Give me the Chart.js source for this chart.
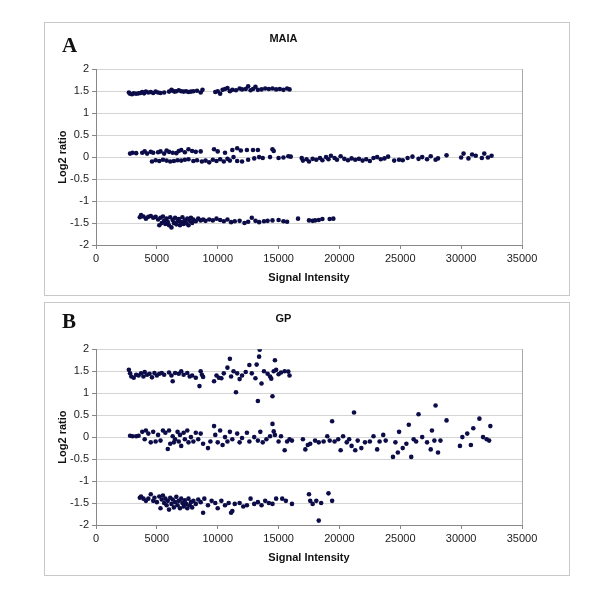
<!DOCTYPE html>
<html>
<head>
<meta charset="utf-8">
<script src="https://cdn.jsdelivr.net/npm/chart.js@4"></script>
<style>
body{margin:0;background:#fff;font-family:"Liberation Sans",Arial,sans-serif;}
.panel{position:absolute;left:44px;width:526px;height:274px;border:1px solid #c8c8c8;box-sizing:border-box;}
.panel canvas{position:absolute;left:0;top:0;}
.tag{position:absolute;left:17px;font:bold 21px "Liberation Serif","DejaVu Serif",serif;color:#111;}
</style>
</head>
<body>
<div class="panel" style="top:22px"><canvas id="maia" width="526" height="274"></canvas><div class="tag" style="top:10px">A</div></div>
<div class="panel" style="top:302px"><canvas id="gp" width="526" height="274"></canvas><div class="tag" style="top:6px">B</div></div>
<script>
// MAIA (panel A)
const maiaX=[2700,2800,2950,3100,3300,3500,3650,3800,3950,4100,4300,4500,4700,4900,5100,5300,5600,6000,6200,6300,6450,6600,6800,7000,7200,7400,7600,7800,8000,8300,8600,8750,
9800,10000,10200,10400,10600,10800,11000,11200,11500,11800,12000,12300,12500,12700,12900,13100,13300,13600,13900,14200,14500,14800,15100,15400,15700,15900,
2800,3000,3300,3800,4000,4200,4500,4700,5100,5300,5600,5800,6000,6300,6600,6800,7000,7300,7600,7900,8200,8600,9700,10000,10600,11200,11600,11900,12400,12900,13300,14500,14600,
4600,4900,5200,5500,5800,6100,6400,6700,7000,7300,7600,8000,8300,8700,9000,9300,9600,9900,10200,10500,10800,11000,11300,11600,12000,12500,13000,13400,13700,14300,15000,15400,15800,16000,
16900,17000,17300,17500,17800,18100,18400,18600,18900,19100,19300,19600,19800,20100,20400,20700,21000,21300,21600,21900,22200,22500,22800,23100,23400,23700,24000,24500,24900,25200,25600,26000,26500,26800,27200,27500,27900,28100,28800,30000,30200,30600,30900,31200,31700,31900,32200,32500,
3600,3700,3900,4100,4300,4500,4700,4900,5100,5200,5300,5400,5500,5600,5700,5800,5900,6000,6100,6200,6300,6400,6500,6600,6700,6800,6900,7000,7100,7200,7300,7400,7500,7600,7700,7800,7900,8000,8200,8400,8600,8800,9000,9300,9600,9900,10200,10500,10800,11100,11400,11800,12200,12500,12800,13100,13400,13800,14100,14500,15000,15400,15700,16600,17500,17800,18000,18300,18600,19200,19500];
const maiaY=[1.47,1.44,1.43,1.45,1.44,1.45,1.46,1.48,1.45,1.49,1.47,1.48,1.46,1.49,1.47,1.46,1.47,1.49,1.53,1.51,1.49,1.50,1.52,1.50,1.49,1.50,1.48,1.49,1.50,1.51,1.47,1.53,
1.48,1.50,1.44,1.53,1.55,1.57,1.50,1.53,1.52,1.56,1.54,1.55,1.61,1.52,1.55,1.60,1.53,1.54,1.56,1.55,1.56,1.54,1.55,1.53,1.56,1.54,
0.08,0.10,0.09,0.10,0.13,0.08,0.12,0.10,0.11,0.13,0.08,0.15,0.12,0.10,0.09,0.14,0.16,0.11,0.18,0.14,0.12,0.13,0.18,0.13,0.10,0.16,0.20,0.15,0.16,0.16,0.16,0.18,0.14,
-0.10,-0.07,-0.09,-0.06,-0.08,-0.10,-0.09,-0.07,-0.08,-0.06,-0.05,-0.09,-0.07,-0.10,-0.08,-0.12,-0.06,-0.09,-0.05,-0.10,-0.04,-0.08,0.00,-0.09,-0.10,-0.06,-0.03,0.00,-0.02,0.00,-0.02,-0.01,0.02,0.01,
-0.02,-0.08,-0.05,-0.10,-0.04,-0.06,-0.02,-0.07,0.00,-0.05,0.03,-0.02,-0.06,0.02,-0.04,-0.07,-0.03,-0.06,-0.04,-0.08,-0.05,-0.09,-0.02,0.00,-0.05,-0.03,0.01,-0.08,-0.06,-0.07,-0.02,0.01,-0.04,0.00,-0.05,0.02,-0.06,-0.03,0.04,-0.01,0.08,-0.03,0.06,0.03,-0.02,0.08,-0.01,0.03,
-1.37,-1.32,-1.35,-1.40,-1.36,-1.34,-1.38,-1.36,-1.42,-1.55,-1.38,-1.50,-1.35,-1.45,-1.52,-1.40,-1.48,-1.55,-1.37,-1.60,-1.43,-1.50,-1.38,-1.53,-1.46,-1.41,-1.55,-1.48,-1.37,-1.52,-1.44,-1.50,-1.40,-1.55,-1.45,-1.38,-1.50,-1.42,-1.46,-1.40,-1.44,-1.42,-1.45,-1.42,-1.44,-1.40,-1.43,-1.46,-1.42,-1.48,-1.46,-1.45,-1.50,-1.47,-1.38,-1.45,-1.48,-1.46,-1.45,-1.44,-1.43,-1.46,-1.47,-1.40,-1.44,-1.45,-1.44,-1.43,-1.41,-1.41,-1.40];

// GP (panel B)
const gpX=[2700,2800,2900,3100,3300,3500,3700,3900,4000,4200,4400,4600,4800,5000,5200,5400,5600,6000,6200,6300,6500,6800,7000,7200,7500,7700,7900,8200,8500,8600,8700,8800,9700,9900,10100,10300,10500,10800,11000,11100,11300,11500,11600,11800,12000,12300,12600,12800,13100,13200,13300,13400,13450,13600,13800,14100,14300,14400,14500,14600,14700,14800,15000,15200,15500,15800,15900,
2800,3000,3300,3500,3800,4000,4100,4300,4500,4700,4900,5100,5300,5500,5700,5900,6000,6100,6300,6400,6500,6700,6800,6900,7000,7200,7300,7500,7600,7800,8000,8200,8400,8600,8800,9200,9400,9700,9800,10000,10200,10400,10600,10800,11000,11200,11600,11800,12000,12400,12600,13000,13300,13500,13700,14000,14300,14500,14600,14700,15000,15200,15500,15700,15900,16100,
17000,17200,17400,17600,18000,18300,18700,19000,19200,19400,19600,19900,20100,20300,20600,20800,21000,21200,21300,21500,21800,22100,22500,22800,23100,23300,23600,23800,24400,24600,24800,24900,25200,25500,25700,25900,26100,26300,26500,26800,27200,27500,27600,27800,27900,28100,28300,28800,29900,30100,30500,30800,31000,31500,31800,32100,32400,32300,
3600,3700,3900,4100,4300,4500,4700,4800,5000,5200,5300,5400,5500,5600,5700,5800,5900,6000,6100,6200,6300,6400,6500,6600,6700,6800,6900,7000,7100,7200,7300,7400,7500,7600,7700,7800,7900,8000,8200,8400,8600,8800,8900,9200,9500,9800,10000,10300,10600,10900,11100,11200,11400,11800,12100,12400,12700,13000,13300,13600,13900,14200,14500,14800,15300,15600,16100,17500,17600,17800,18100,18300,18500,19100,19400];
const gpY=[1.53,1.45,1.38,1.35,1.42,1.40,1.45,1.38,1.48,1.42,1.44,1.36,1.46,1.40,1.44,1.46,1.42,1.47,1.40,1.27,1.46,1.44,1.50,1.42,1.46,1.38,1.40,1.35,1.16,1.50,1.42,1.37,1.27,1.40,1.35,1.34,1.45,1.58,1.78,1.38,1.50,1.02,1.45,1.32,1.40,1.48,1.64,1.45,1.34,1.65,0.82,1.83,1.99,1.22,1.50,1.44,1.38,1.33,0.93,1.50,1.75,1.53,1.43,1.47,1.50,1.49,1.40,
0.03,0.02,0.02,0.03,0.12,-0.05,0.15,0.08,-0.12,0.12,-0.10,0.05,-0.08,0.15,0.10,-0.27,0.15,-0.15,0.02,-0.12,-0.05,0.12,-0.10,0.05,-0.20,0.10,-0.05,0.15,-0.12,0.00,-0.10,0.10,-0.05,0.08,-0.15,-0.25,-0.10,0.25,0.05,-0.12,0.15,-0.18,0.00,-0.10,0.12,-0.05,0.08,-0.12,-0.02,0.10,-0.10,0.00,-0.08,0.12,-0.12,-0.05,0.02,0.30,0.13,0.05,-0.10,0.02,-0.30,-0.10,-0.05,-0.08,
-0.05,-0.28,-0.18,-0.15,-0.08,-0.12,-0.10,0.02,-0.08,0.36,-0.10,-0.05,-0.30,0.02,-0.12,-0.05,-0.20,0.56,-0.30,-0.08,-0.25,-0.12,-0.10,0.02,-0.28,-0.10,0.05,-0.08,-0.45,-0.12,-0.35,0.12,-0.25,-0.15,0.28,-0.45,-0.05,-0.10,0.52,0.00,-0.12,-0.28,0.15,-0.08,0.72,-0.35,-0.08,0.38,-0.20,0.00,0.08,-0.18,0.20,0.42,0.00,-0.05,0.25,-0.08,
-1.38,-1.35,-1.40,-1.45,-1.40,-1.30,-1.45,-1.38,-1.48,-1.35,-1.62,-1.42,-1.33,-1.50,-1.40,-1.55,-1.45,-1.65,-1.38,-1.52,-1.42,-1.60,-1.48,-1.36,-1.55,-1.45,-1.62,-1.40,-1.50,-1.58,-1.44,-1.52,-1.62,-1.40,-1.55,-1.48,-1.60,-1.45,-1.52,-1.42,-1.48,-1.72,-1.40,-1.55,-1.45,-1.50,-1.62,-1.45,-1.55,-1.50,-1.72,-1.68,-1.52,-1.50,-1.58,-1.55,-1.40,-1.52,-1.48,-1.55,-1.45,-1.50,-1.52,-1.40,-1.40,-1.45,-1.52,-1.30,-1.45,-1.52,-1.45,-1.90,-1.50,-1.28,-1.45];

const dotColor='#0c0c48';
Chart.defaults.font.family='"Liberation Sans", Arial, sans-serif';
Chart.defaults.color='#222';

function makeChart(id,title,xs,ys){
  const pts=xs.map((x,i)=>({x:x,y:ys[i]}));
  return new Chart(document.getElementById(id),{
    type:'scatter',
    data:{datasets:[{data:pts,backgroundColor:dotColor,borderWidth:0,pointRadius:2.3,pointHoverRadius:2.3}]},
    options:{
      responsive:false,animation:false,
      layout:{padding:{left:0,right:49,top:0,bottom:0}},
      plugins:{
        legend:{display:false},tooltip:{enabled:false},
        title:{display:true,text:title,font:{size:11,weight:'bold'},color:'#111',padding:{top:9,bottom:24}}
      },
      scales:{
        x:{
          min:0,max:35000,
          afterFit:s=>{s.height=52;},
          ticks:{stepSize:5000,maxRotation:0,autoSkip:false,font:{size:11},callback:v=>String(v)},
          grid:{drawOnChartArea:true,tickLength:4,color:c=>c.tick&&c.tick.value===35000?'#a8a8a8':'rgba(0,0,0,0)',tickColor:'#888'},
          border:{color:'#888'},
          title:{display:true,text:'Signal Intensity',font:{size:11,weight:'bold'},color:'#111',padding:{top:0,bottom:12}}
        },
        y:{
          min:-2,max:2,
          afterFit:s=>{s.width=51;},
          ticks:{stepSize:0.5,font:{size:11},callback:v=>String(v)},
          grid:{tickLength:4,color:'#d4d4d4',tickColor:'#888'},
          border:{color:'#888'},
          title:{display:true,text:'Log2 ratio',font:{size:11,weight:'bold'},color:'#111',padding:{top:11,bottom:0}}
        }
      }
    }
  });
}

makeChart('maia','MAIA',maiaX,maiaY);
makeChart('gp','GP',gpX,gpY);
</script>
</body>
</html>
